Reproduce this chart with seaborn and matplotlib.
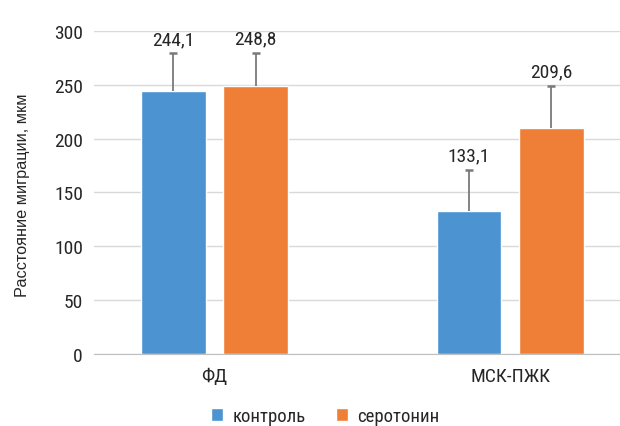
import numpy as np
import pandas as pd
import seaborn as sns
import matplotlib.pyplot as plt

groups = ['ФД', 'МСК-ПЖК']
treatments = ['контроль', 'серотонин']
control_means = [244.1, 133.1]
serotonin_means = [248.8, 209.6]
control_err = [35, 38]
serotonin_err = [31, 39.5]
colors = ['#4b94d1', '#ef7f37']

df = pd.DataFrame({
    'group': groups * 2,
    'treatment': [treatments[0]] * 2 + [treatments[1]] * 2,
    'value': control_means + serotonin_means,
})

sns.set_style('white')
plt.rcParams['font.family'] = ['Roboto Condensed', 'Liberation Sans', 'DejaVu Sans']

fig = plt.figure(figsize=(6.2, 4.27), dpi=100)
ax = fig.add_axes([0.1516, 0.1686, 0.8484, 0.7565])

sns.barplot(data=df, x='group', y='value', hue='treatment', palette=colors,
            saturation=1, width=0.556, gap=0.21, errorbar=None, ax=ax)

# error bars only upwards + value labels above them
for cont, means, errs in zip(ax.containers, [control_means, serotonin_means],
                             [control_err, serotonin_err]):
    xs = [b.get_x() + b.get_width() / 2 for b in cont]
    eb = ax.errorbar(xs, means, yerr=[np.zeros(len(errs)), errs], fmt='none',
                     ecolor='#7a7a7a', elinewidth=1.3, capsize=3, capthick=1.8, zorder=3)
    eb[1][0].set_visible(False)  # no cap at the bar top
    for x, m, e in zip(xs, means, errs):
        ax.annotate(f'{m:.1f}'.replace('.', ','), (x, m + e), xytext=(0, 4),
                    textcoords='offset points', ha='center', va='bottom',
                    fontsize=14, color='#262626')

ax.set_xlim(-0.408, 1.372)
ax.set_ylim(0, 300)
ax.set_yticks(range(0, 301, 50))
ax.yaxis.grid(True, color='#d9d9d9', linewidth=1)
ax.set_axisbelow(True)
for s in ['top', 'right', 'left']:
    ax.spines[s].set_visible(False)
ax.spines['bottom'].set_color('#bfbfbf')
ax.tick_params(axis='both', length=0, labelsize=14, colors='#262626')
ax.tick_params(axis='y', pad=8)
ax.tick_params(axis='x', pad=9)
ax.set_xlabel('')
ax.set_ylabel('Расстояние миграции, мкм', fontsize=11.7, color='#262626',
              fontfamily='Liberation Sans')
ax.yaxis.set_label_coords(-0.122, 0.495)

ax.legend(loc='center', bbox_to_anchor=(325 / 620, 1 - 417 / 427),
          bbox_transform=fig.transFigure, ncol=2, frameon=False,
          fontsize=13.5, handlelength=0.65, handleheight=0.65,
          handletextpad=0.5, columnspacing=1.6, labelcolor='#262626')

plt.savefig('out.png', dpi=100)
